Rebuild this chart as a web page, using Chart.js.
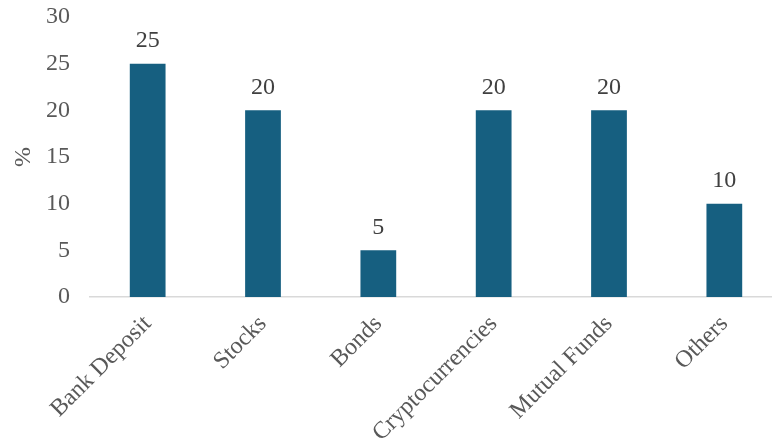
<!DOCTYPE html>
<html>
<head>
<meta charset="utf-8">
<script src="https://cdn.jsdelivr.net/npm/chart.js@4/dist/chart.umd.min.js"></script>
<style>
  html, body { margin: 0; padding: 0; background: #fff; overflow: hidden; }
  #wrap { width: 782px; height: 443px; }
</style>
</head>
<body>
<div id="wrap"><canvas id="savingsChart" width="782" height="443"></canvas></div>
<script>
const categories = ['Bank Deposit', 'Stocks', 'Bonds', 'Cryptocurrencies', 'Mutual Funds', 'Others'];
const shares = [25, 20, 5, 20, 20, 10];
const yTicks = [0, 5, 10, 15, 20, 25, 30];

const serif = '"Liberation Serif", "Times New Roman", serif';

// draws the value above each bar
const valueLabels = {
    id: 'valueLabels',
    afterDatasetsDraw(chart) {
        const ctx = chart.ctx;
        const meta = chart.getDatasetMeta(0);
        ctx.save();
        ctx.font = '24px ' + serif;
        ctx.fillStyle = '#404040';
        ctx.textAlign = 'center';
        ctx.textBaseline = 'middle';
        meta.data.forEach((bar, i) => {
            ctx.fillText(String(shares[i]), bar.x, bar.y - 23);
        });
        ctx.restore();
    }
};

const ctx = document.getElementById('savingsChart').getContext('2d');
new Chart(ctx, {
    type: 'bar',
    data: {
        labels: categories,
        datasets: [{
            data: shares,
            backgroundColor: '#165f80',
            borderWidth: 0,
            barPercentage: 0.31,
            categoryPercentage: 1
        }]
    },
    options: {
        responsive: false,
        animation: false,
        layout: { padding: { top: 17, left: 0, right: 0, bottom: 0 } },
        plugins: { legend: { display: false }, tooltip: { enabled: false } },
        scales: {
            x: {
                grid: { display: false, drawTicks: false },
                border: { display: true, color: '#d9d9d9', width: 1.5 },
                ticks: {
                    color: '#595959',
                    font: { family: serif, size: 24 },
                    maxRotation: 45,
                    minRotation: 45,
                    padding: 13
                },
                afterFit(scale) {
                    scale.height = 146;
                    scale.paddingLeft = 0;
                    scale.paddingRight = 0;
                }
            },
            y: {
                min: 0,
                max: 30,
                grid: { display: false, drawTicks: false },
                border: { display: false },
                afterBuildTicks(scale) { scale.ticks = yTicks.map(v => ({ value: v })); },
                ticks: {
                    color: '#595959',
                    font: { family: serif, size: 24 },
                    padding: 20
                },
                title: {
                    display: true,
                    text: '%',
                    color: '#595959',
                    font: { family: serif, size: 24 },
                    padding: { top: 9, bottom: 0 }
                },
                afterFit(scale) {
                    scale.width = 90;
                    scale.paddingTop = 0;
                    scale.paddingBottom = 0;
                }
            }
        }
    },
    plugins: [valueLabels]
});
</script>
</body>
</html>
